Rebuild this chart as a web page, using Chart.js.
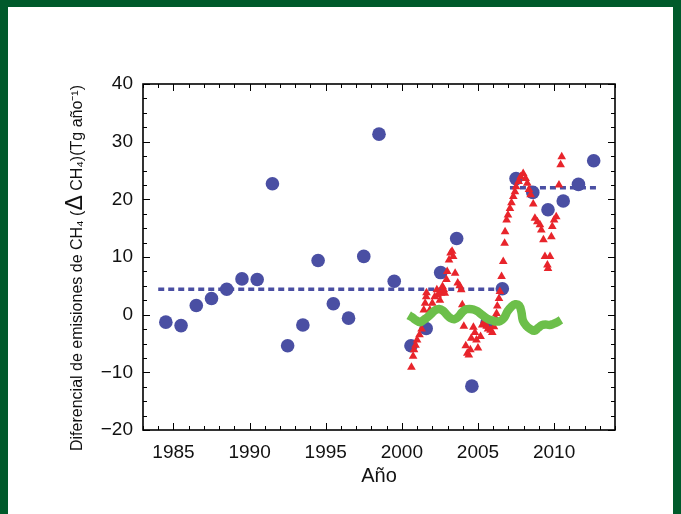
<!DOCTYPE html>
<html>
<head>
<meta charset="utf-8">
<script src="https://cdn.jsdelivr.net/npm/chart.js@4"></script>
<style>
  html, body { margin: 0; padding: 0; background: #005a2b; }
  #panel { position: absolute; left: 8px; top: 7px; width: 665px; height: 507px; background: #fff; }
  #c { position: absolute; left: 0; top: 0; }
</style>
</head>
<body>
<div id="panel"></div>
<canvas id="c" width="681" height="514"></canvas>
<script>
// ticks
const xTicks = [1985, 1990, 1995, 2000, 2005, 2010];
const yTicks = [-20, -10, 0, 10, 20, 30, 40];

// puntos anuales (circulos azules)
const blueYears = [1984.5, 1985.5, 1986.5, 1987.5, 1988.5, 1989.5, 1990.5, 1991.5, 1992.5, 1993.5,
  1994.5, 1995.5, 1996.5, 1997.5, 1998.5, 1999.5, 2000.6, 2001.6, 2002.55, 2003.6,
  2004.6, 2005.6, 2006.6, 2007.5, 2008.6, 2009.6, 2010.6, 2011.6, 2012.6];
const blueVals = [-1.3, -1.9, 1.6, 2.8, 4.4, 6.2, 6.1, 22.7, -5.4, -1.8,
  9.4, 1.9, -0.6, 10.1, 31.3, 5.8, -5.4, -2.4, 7.3, 13.2,
  -12.4, -1.3, 4.5, 23.6, 21.2, 18.2, 19.7, 22.6, 26.7];

// medias (lineas punteadas)
const mean1Years = [1984.0, 2006.7];
const mean1Vals = [4.4, 4.4];
const mean2Years = [2007.1, 2012.85];
const mean2Vals = [22.0, 22.0];

// triangulos rojos
const redYears = [2000.63, 2000.74, 2000.8, 2000.9, 2001.0, 2001.16, 2001.3, 2001.4, 2001.44, 2001.53,
  2001.6, 2001.62, 2001.84, 2002.0, 2002.16, 2002.3, 2002.36, 2002.5, 2002.58, 2002.67,
  2002.76, 2002.82, 2002.93, 2002.98, 2003.1, 2003.2, 2003.3, 2003.37, 2003.5, 2003.67,
  2003.8, 2003.9, 2003.97, 2004.07, 2004.2, 2004.3, 2004.4, 2004.5, 2004.56, 2004.7,
  2004.8, 2004.9, 2005.0, 2005.17, 2005.28, 2005.4, 2005.57, 2005.66, 2005.83, 2005.94,
  2006.05, 2006.16, 2006.22, 2006.27, 2006.38, 2006.44, 2006.55, 2006.66, 2006.75, 2006.78,
  2006.88, 2006.97, 2007.1, 2007.2, 2007.32, 2007.43, 2007.5, 2007.67, 2007.8, 2007.97,
  2008.13, 2008.24, 2008.35, 2008.46, 2008.63, 2008.74, 2008.9, 2009.07, 2009.16, 2009.3,
  2009.4, 2009.56, 2009.6, 2009.73, 2009.82, 2009.88, 2010.0, 2010.14, 2010.32, 2010.43, 2010.5];
const redVals = [-9.1, -7.2, -6.1, -5.3, -4.4, -3.5, -2.5, -0.9, 0.8, 2.0,
  3.1, 3.8, 0.8, 2.0, 3.1, 4.3, 3.4, 2.5, 3.7, 4.9,
  4.3, 3.7, 6.1, 7.5, 9.5, 10.7, 11.0, 10.1, 7.2, 5.5,
  5.0, 4.3, 1.7, -2.0, -5.4, -6.7, -7.0, -6.1, -4.1, -2.2,
  -3.1, -4.4, -5.8, -3.8, -1.8, -1.4, -2.0, -2.5, -2.7, -3.1,
  -2.1, -0.6, 0.2, 1.5, 2.8, 4.0, 6.6, 9.2, 12.4, 14.4,
  16.4, 17.3, 18.4, 19.4, 20.5, 21.3, 22.2, 23.1, 23.9, 24.5,
  23.6, 22.8, 21.7, 20.8, 19.2, 16.7, 16.1, 15.6, 14.7, 13.0,
  10.1, 8.6, 8.0, 10.1, 13.5, 15.3, 16.4, 17.0, 22.5, 26.0, 27.4];

// linea verde
const greenYears = [2000.45, 2000.7, 2000.95, 2001.2, 2001.45, 2001.7, 2001.95, 2002.2, 2002.45, 2002.7,
  2002.95, 2003.2, 2003.45, 2003.7, 2003.95, 2004.2, 2004.45, 2004.7, 2004.95, 2005.2,
  2005.45, 2005.7, 2005.95, 2006.2, 2006.45, 2006.7, 2006.95, 2007.2, 2007.45, 2007.7,
  2007.85, 2007.95, 2008.2, 2008.45, 2008.7, 2008.95, 2009.2, 2009.45, 2009.7, 2009.95,
  2010.2, 2010.45];
const greenVals = [-0.1, -0.5, -1.0, -1.3, -0.9, -0.4, 0.2, 0.8, 1.0, 0.7,
  0.0, -0.6, -0.8, -0.4, 0.4, 0.9, 1.0, 0.9, 0.6, 0.1,
  -0.4, -0.8, -1.0, -1.2, -1.1, -0.6, 0.6, 1.4, 1.8, 1.6,
  0.5, -1.0, -2.0, -2.5, -2.8, -2.3, -1.8, -1.7, -1.8, -1.6,
  -1.3, -0.9];

const pts = (xs, ys) => xs.map((x, i) => ({ x, y: ys[i] }));
const FONT = '"Liberation Sans", Arial, sans-serif';

// marco y marcas de los ejes hacia dentro
const framePlugin = {
  id: 'frame',
  afterDraw(chart) {
    const { ctx, chartArea: a, scales: { x, y } } = chart;
    ctx.save();
    ctx.strokeStyle = '#000';
    ctx.lineWidth = 1;
    ctx.beginPath();
    for (let v = 1983; v <= 2014; v++) {
      const px = Math.round(x.getPixelForValue(v)) + 0.5;
      const len = v % 5 === 0 ? 7 : 4;
      ctx.moveTo(px, a.bottom); ctx.lineTo(px, a.bottom - len);
      ctx.moveTo(px, a.top); ctx.lineTo(px, a.top + len);
    }
    for (let v = -20; v <= 40; v += 2.5) {
      const py = Math.round(y.getPixelForValue(v)) + 0.5;
      const len = v % 10 === 0 ? 7 : 4;
      ctx.moveTo(a.left, py); ctx.lineTo(a.left + len, py);
      ctx.moveTo(a.right, py); ctx.lineTo(a.right - len, py);
    }
    ctx.stroke();
    ctx.lineWidth = 1.6;
    ctx.strokeRect(a.left, a.top, a.right - a.left, a.bottom - a.top);

    // titulo del eje y
    const parts = [
      ['Diferencial de emisiones de CH\u2084 (', 16],
      ['\u0394', 23],
      [' CH\u2084)(Tg a\u00f1o\u207B\u00B9)', 16]
    ];
    let total = 0;
    parts.forEach(p => { ctx.font = p[1] + 'px ' + FONT; total += ctx.measureText(p[0]).width; });
    ctx.translate(76, 268);
    ctx.rotate(-Math.PI / 2);
    ctx.fillStyle = '#111';
    ctx.textBaseline = 'alphabetic';
    let cx = -total / 2;
    parts.forEach(p => {
      ctx.font = p[1] + 'px ' + FONT;
      ctx.fillText(p[0], cx, 6);
      cx += ctx.measureText(p[0]).width;
    });
    ctx.restore();
  }
};

new Chart(document.getElementById('c'), {
  data: {
    datasets: [
      { type: 'line', label: 'verde', data: pts(greenYears, greenVals), borderColor: '#6cbf4a',
        borderWidth: 8.5, pointRadius: 0, tension: 0.4, order: 0 },
      { type: 'scatter', label: 'rojo', data: pts(redYears, redVals), pointStyle: 'triangle',
        pointRadius: 5, backgroundColor: '#e8242b', borderColor: '#e8242b', borderWidth: 0, order: 1 },
      { type: 'scatter', label: 'azul', data: pts(blueYears, blueVals), pointRadius: 6.8,
        backgroundColor: '#4a4fa3', borderColor: '#4a4fa3', borderWidth: 0, order: 2 },
      { type: 'line', label: 'media1', data: pts(mean1Years, mean1Vals), borderColor: '#4a4fa3',
        borderWidth: 3.5, borderDash: [6, 4], pointRadius: 0, order: 3 },
      { type: 'line', label: 'media2', data: pts(mean2Years, mean2Vals), borderColor: '#4a4fa3',
        borderWidth: 3.5, borderDash: [6, 4], pointRadius: 0, order: 3 }
    ]
  },
  options: {
    responsive: false,
    animation: false,
    layout: { padding: { top: 84, right: 66, left: 0, bottom: 0 } },
    plugins: { legend: { display: false }, tooltip: { enabled: false } },
    scales: {
      x: {
        type: 'linear', min: 1983, max: 2014,
        afterBuildTicks: s => { s.ticks = xTicks.map(v => ({ value: v })); },
        afterFit: s => { s.height = 84; },
        grid: { display: false, drawTicks: false },
        border: { display: false },
        ticks: { color: '#111', padding: 11, maxRotation: 0, font: { family: FONT, size: 19 },
          callback: v => String(v) },
        title: { display: true, text: 'A\u00f1o', color: '#111', font: { family: FONT, size: 20 },
          padding: { top: 0, bottom: 26 } }
      },
      y: {
        type: 'linear', min: -20, max: 40,
        afterBuildTicks: s => { s.ticks = yTicks.map(v => ({ value: v })); },
        afterFit: s => { s.width = 143; },
        grid: { display: false, drawTicks: false },
        border: { display: false },
        ticks: { color: '#111', padding: 10, font: { family: FONT, size: 19 },
          callback: v => (v < 0 ? '\u2212' + Math.abs(v) : String(v)) }
      }
    }
  },
  plugins: [framePlugin]
});
</script>
</body>
</html>
